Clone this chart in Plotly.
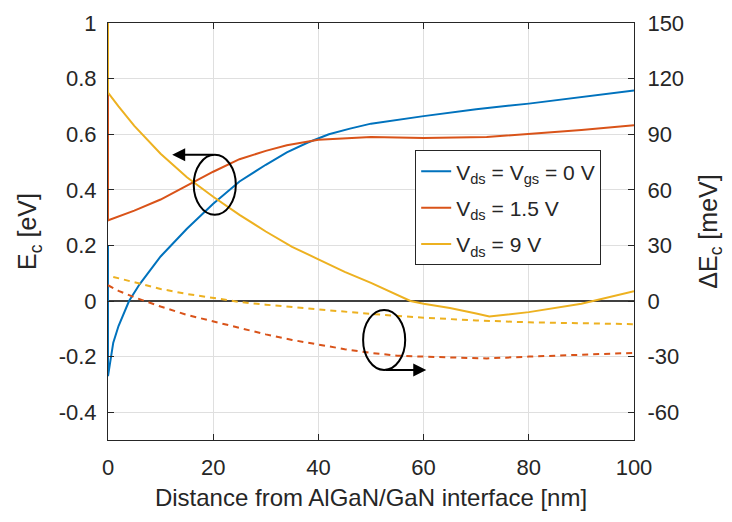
import plotly.graph_objects as go

# ---- data ----
blue_x = [0, 0, 1, 2, 4, 6, 10, 15, 20, 25, 30, 34, 38, 42, 46, 50, 60, 70, 80, 90, 100]
blue_y = [0.20, -0.27, -0.15, -0.09, 0.0, 0.06, 0.16, 0.26, 0.35, 0.43, 0.49, 0.535, 0.57, 0.60, 0.62, 0.638, 0.665, 0.69, 0.71, 0.733, 0.757]

orange_x = [0, 0, 5, 10, 15, 20, 25, 30, 34, 40, 50, 60, 72, 80, 90, 100]
orange_y = [0.75, 0.29, 0.325, 0.365, 0.415, 0.465, 0.51, 0.54, 0.56, 0.58, 0.59, 0.586, 0.59, 0.60, 0.615, 0.632]

yellow_x = [0, 0, 2, 5, 10, 15, 20, 25, 30, 35, 40, 45, 50, 55, 57.5, 60, 65, 70, 72.5, 80, 90, 100]
yellow_y = [1.0, 0.75, 0.70, 0.63, 0.53, 0.445, 0.375, 0.31, 0.25, 0.195, 0.15, 0.105, 0.065, 0.022, 0.0, -0.01, -0.025, -0.045, -0.056, -0.04, -0.01, 0.035]

# Delta Ec (meV), right axis, dashed
dy_x = [1, 5, 10, 15, 20, 25, 30, 40, 50, 60, 70, 80, 90, 100]
dy_y = [13, 10, 6.5, 3.8, 1.5, -0.5, -2, -4.5, -7, -9, -10.5, -11.5, -12, -12.5]

do_x = [0, 2, 5, 7, 10, 15, 20, 25, 30, 35, 40, 45, 50, 55, 60, 65, 72, 80, 90, 100]
do_y = [8.5, 5.5, 2, 0, -3, -7.5, -11, -14.5, -18, -21, -23.5, -26, -28, -29.5, -30, -30.5, -31, -30, -29, -28]

left_ticks = [-0.4, -0.2, 0, 0.2, 0.4, 0.6, 0.8, 1]
left_labels = ["-0.4", "-0.2", "0", "0.2", "0.4", "0.6", "0.8", "1"]
right_ticks = [-60, -30, 0, 30, 60, 90, 120, 150]
right_labels = ["-60", "-30", "0", "30", "60", "90", "120", "150"]
x_ticks = [0, 20, 40, 60, 80, 100]

BLUE = "#0072BD"
ORANGE = "#D95319"
YELLOW = "#EDB120"
AX = "#262626"
FONT = "Liberation Sans, Arial, sans-serif"

fig = go.Figure()
fig.add_trace(go.Scatter(x=blue_x, y=blue_y, mode="lines", line=dict(color=BLUE, width=2),
                         legendgroup="a", name="V<sub>ds</sub> = V<sub>gs</sub> = 0 V"))
fig.add_trace(go.Scatter(x=orange_x, y=orange_y, mode="lines", line=dict(color=ORANGE, width=2),
                         legendgroup="b", name="V<sub>ds</sub> = 1.5 V"))
fig.add_trace(go.Scatter(x=yellow_x, y=yellow_y, mode="lines", line=dict(color=YELLOW, width=2),
                         legendgroup="c", name="V<sub>ds</sub> = 9 V"))
fig.add_trace(go.Scatter(x=dy_x, y=dy_y, mode="lines", yaxis="y2", showlegend=False,
                         line=dict(color=YELLOW, width=2, dash="6px,5px")))
fig.add_trace(go.Scatter(x=do_x, y=do_y, mode="lines", yaxis="y2", showlegend=False,
                         line=dict(color=ORANGE, width=2, dash="6px,5px")))

# ellipses and arrows (annotation decorations)
fig.add_shape(type="circle", xref="x", yref="y", x0=16.3, x1=24.3, y0=0.31, y1=0.526,
              line=dict(color="black", width=2))
fig.add_shape(type="circle", xref="x", yref="y", x0=48.5, x1=56.5, y0=-0.248, y1=-0.032,
              line=dict(color="black", width=2))
fig.add_annotation(x=12.2, y=0.526, ax=20.3, ay=0.526, xref="x", yref="y", axref="x", ayref="y",
                   text="", showarrow=True, arrowhead=2, arrowsize=1.3, arrowwidth=2, arrowcolor="black")
fig.add_annotation(x=60.5, y=-0.248, ax=52.5, ay=-0.248, xref="x", yref="y", axref="x", ayref="y",
                   text="", showarrow=True, arrowhead=2, arrowsize=1.3, arrowwidth=2, arrowcolor="black")

fig.update_layout(
    width=732, height=522,
    margin=dict(l=108, r=98, t=11, b=82),
    paper_bgcolor="white", plot_bgcolor="white",
    font=dict(family=FONT, size=22, color=AX),
    xaxis=dict(range=[0, 100], tickvals=x_ticks, ticks="inside", ticklen=6, tickcolor=AX,
               showline=True, linecolor=AX, linewidth=1, mirror="ticks",
               showgrid=True, gridcolor="#DFDFDF", gridwidth=1, zeroline=False,
               ticklabelstandoff=8, ticklabeloverflow="allow",
               title=dict(text="Distance from AlGaN/GaN interface [nm]", font=dict(size=24), standoff=9),
               tickfont=dict(size=22)),
    yaxis=dict(range=[-0.5, 1], tickvals=left_ticks, ticktext=left_labels, ticks="inside", ticklen=6,
               tickcolor=AX, showline=True, linecolor=AX, linewidth=1,
               showgrid=True, gridcolor="#DFDFDF", gridwidth=1,
               zeroline=True, zerolinecolor="#404040", zerolinewidth=2,
               ticklabelstandoff=6, ticklabeloverflow="allow",
               title=dict(text="E<sub>c</sub> [eV]", font=dict(size=25), standoff=14),
               tickfont=dict(size=22)),
    yaxis2=dict(range=[-75, 150], tickvals=right_ticks, ticktext=right_labels, overlaying="y", side="right",
                ticks="inside", ticklen=6, tickcolor=AX, showline=True, linecolor=AX, linewidth=1,
                showgrid=False, zeroline=False, ticklabelstandoff=8, ticklabeloverflow="allow",
                title=dict(text="ΔE<sub>c</sub> [meV]", font=dict(size=25), standoff=16),
                tickfont=dict(size=22)),
    legend=dict(x=0.584, y=0.695, xanchor="left", yanchor="top",
                bgcolor="white", bordercolor=AX, borderwidth=1,
                font=dict(size=21), tracegroupgap=6, traceorder="grouped"),
    showlegend=True,
)

fig.write_html("out.html")
